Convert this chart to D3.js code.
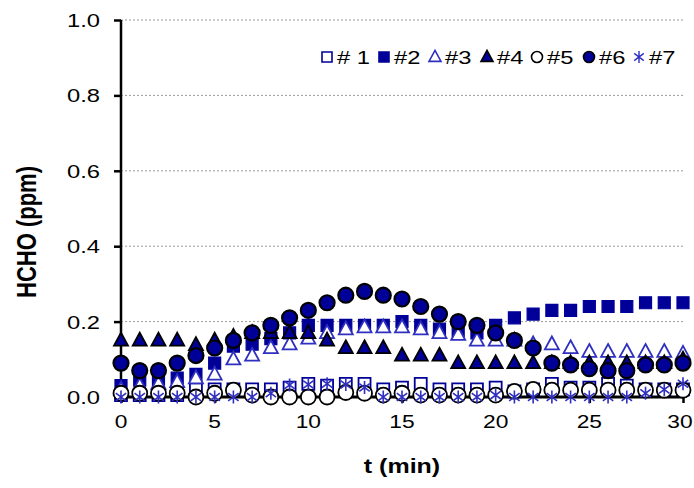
<!DOCTYPE html>
<html>
<head>
<meta charset="utf-8">
<script src="https://cdn.jsdelivr.net/npm/d3@7"></script>
<style>
  html, body { margin: 0; padding: 0; background: #fff; }
  svg { display: block; }
  text { font-family: "Liberation Sans", Arial, sans-serif; fill: #000; }
</style>
</head>
<body>
<svg id="chart" width="694" height="488"></svg>
<script>
// Sampling times (min)
const times = d3.range(0, 31);

// HCHO concentration (ppm) for each test series
const s1 = [0.005,0.005,0.005,0.005,0.02,0.02,0.02,0.02,0.02,0.025,0.035,0.03,0.035,0.035,0.02,0.025,0.035,0.02,0.02,0.02,0.025,0.015,0.02,0.035,0.025,0.025,0.035,0.03,0.02,0.02,0.02];
const s2 = [0.03,0.045,0.045,0.05,0.06,0.09,0.135,0.14,0.155,0.17,0.19,0.19,0.19,0.19,0.19,0.2,0.19,0.18,0.175,0.17,0.19,0.21,0.22,0.23,0.23,0.24,0.24,0.24,0.25,0.25,0.25];
const s3 = [0.02,0.03,0.035,0.04,0.05,0.06,0.1,0.11,0.13,0.14,0.155,0.17,0.18,0.185,0.185,0.185,0.18,0.17,0.165,0.15,0.15,0.15,0.14,0.14,0.13,0.12,0.12,0.12,0.12,0.12,0.115];
const s4 = [0.15,0.15,0.15,0.15,0.138,0.15,0.16,0.17,0.17,0.17,0.17,0.15,0.13,0.13,0.13,0.11,0.11,0.11,0.09,0.09,0.09,0.09,0.09,0.09,0.09,0.09,0.09,0.09,0.09,0.09,0.1];
const s5 = [0.01,0.01,0.01,0.01,0.0,0.01,0.018,0.005,0.0,0.0,0.0,0.0,0.012,0.01,0.005,0.01,0.005,0.005,0.005,0.005,0.005,0.015,0.02,0.018,0.018,0.018,0.018,0.018,0.018,0.018,0.018];
const s6 = [0.09,0.07,0.07,0.09,0.11,0.13,0.15,0.17,0.19,0.21,0.23,0.25,0.27,0.28,0.27,0.26,0.24,0.22,0.2,0.19,0.17,0.15,0.13,0.09,0.085,0.075,0.07,0.07,0.085,0.085,0.09];
const s7 = [0,0,0,0,0,0,0,0,0.01,0.032,0.033,0.035,0.033,0.025,0,0,0,0,0,0,0.005,0,0,0,0,0,0,0,0.01,0.02,0.035];

const seriesNames = ["# 1", "#2", "#3", "#4", "#5", "#6", "#7"];
const seriesValues = [s1, s2, s3, s4, s5, s6, s7];

const xTicks = [0, 5, 10, 15, 20, 25, 30];
const yTicks = [0, 0.2, 0.4, 0.6, 0.8, 1.0];

const NAVY = "#000099";
const BLUE = "#2f2fc0";

// marker styles per series
const styles = [
  { shape: "square",   fill: "#fff", stroke: NAVY,   sw: 1.8 },
  { shape: "square",   fill: NAVY,   stroke: NAVY,   sw: 1.2 },
  { shape: "triangle", fill: "#fff", stroke: BLUE,   sw: 1.8 },
  { shape: "triangle", fill: NAVY,   stroke: "#000", sw: 1.8 },
  { shape: "circle",   fill: "#fff", stroke: "#000", sw: 1.8 },
  { shape: "circle",   fill: NAVY,   stroke: "#000", sw: 2.2 },
  { shape: "star",     fill: "none", stroke: BLUE,   sw: 1.6 }
];

const svg = d3.select("#chart");
const X0 = 121, X1 = 683, Y0 = 397, Y1 = 20;
const x = d3.scaleLinear().domain([0, 30]).range([X0, X1]);
const y = d3.scaleLinear().domain([0, 1]).range([Y0, Y1]);
const SX = 1.25; // horizontal stretch of the type

function stretchedText(parent, px, py, str, anchor, size, weight, rot, sx) {
  const k = sx || SX;
  const g = parent.append("g")
    .attr("transform", `translate(${px},${py}) scale(${k},1)` + (rot ? ` rotate(${rot})` : ""));
  return g.append("text")
    .attr("text-anchor", anchor)
    .attr("font-size", size)
    .attr("font-weight", weight || "normal")
    .text(str);
}

// gridlines
svg.append("g").selectAll("line").data(yTicks.filter(d => d > 0)).join("line")
  .attr("x1", X0).attr("x2", X1 + 1)
  .attr("y1", d => y(d)).attr("y2", d => y(d))
  .attr("stroke", "#9a9a9a").attr("stroke-width", 1)
  .attr("stroke-dasharray", "2,2");

// axes
const yAxis = d3.axisLeft(y).tickValues(yTicks).tickSize(7).tickFormat("");
const gy = svg.append("g").attr("transform", `translate(${X0},0)`).call(yAxis);
gy.select(".domain").attr("stroke", "#000").attr("stroke-width", 2.5).attr("d", `M0,${Y1}V${Y0}`);
gy.selectAll(".tick line").attr("stroke", "#000").attr("stroke-width", 2.5);

const xAxis = d3.axisBottom(x).tickValues(xTicks).tickSize(6).tickFormat("");
const gx = svg.append("g").attr("transform", `translate(0,${Y0})`).call(xAxis);
gx.select(".domain").attr("stroke", "#000").attr("stroke-width", 3).attr("d", `M${X0},0H${X1 + 1}`);
gx.selectAll(".tick line").attr("stroke", "#000").attr("stroke-width", 2.5);

// tick labels
yTicks.forEach(v => stretchedText(svg, 100, y(v) + 7, d3.format(".1f")(v), "end", 19));
xTicks.forEach(v => {
  const px = Math.min(x(v), 680);
  stretchedText(svg, px, 428, String(v), "middle", 19, "normal", 0, 1.2);
});

// axis titles
stretchedText(svg, 402, 473, "t (min)", "middle", 20, "bold");
stretchedText(svg, 36, 232, "HCHO (ppm)", "middle", 22, "bold", -90);

// marker path generators
function markerPath(shape, s) {
  if (shape === "square") return `M${-s/2},${-s/2}h${s}v${s}h${-s}Z`;
  if (shape === "triangle") {
    const h = s * 0.92;
    return `M0,${-h*0.6}L${s/2},${h*0.4}L${-s/2},${h*0.4}Z`;
  }
  if (shape === "circle") {
    const r = s / 2;
    return `M${r},0A${r},${r} 0 1,1 ${-r},0A${r},${r} 0 1,1 ${r},0Z`;
  }
  // asterisk: vertical bar plus an X
  const r = s / 2, d = r * 0.8;
  return `M0,${-r}V${r}M${-d},${-d*0.75}L${d},${d*0.75}M${-d},${d*0.75}L${d},${-d*0.75}`;
}
const plotSize = { square: 12, triangle: 14, circle: 15, star: 13 };
const legendSize = { square: 10, triangle: 12, circle: 11, star: 12 };

// data markers, series drawn in order so later ones sit on top
const plot = svg.append("g");
seriesValues.forEach((vals, i) => {
  const st = styles[i];
  plot.append("g").selectAll("path")
    .data(times.map((t, k) => ({ t, v: vals[k] })))
    .join("path")
    .attr("transform", d => `translate(${x(d.t)},${y(d.v)})`)
    .attr("d", markerPath(st.shape, plotSize[st.shape]))
    .attr("fill", st.fill)
    .attr("stroke", st.stroke)
    .attr("stroke-width", st.sw);
});

// legend
const legendX = [327, 384, 435, 487, 537, 589, 639];
const legendY = 57;
const lg = svg.append("g");
seriesNames.forEach((name, i) => {
  const st = styles[i];
  lg.append("path")
    .attr("transform", `translate(${legendX[i]},${legendY})`)
    .attr("d", markerPath(st.shape, legendSize[st.shape]))
    .attr("fill", st.fill)
    .attr("stroke", st.stroke)
    .attr("stroke-width", st.shape === "star" ? 1.4 : 1.6);
  stretchedText(lg, legendX[i] + 10, legendY + 7, name, "start", 19);
});
</script>
</body>
</html>
